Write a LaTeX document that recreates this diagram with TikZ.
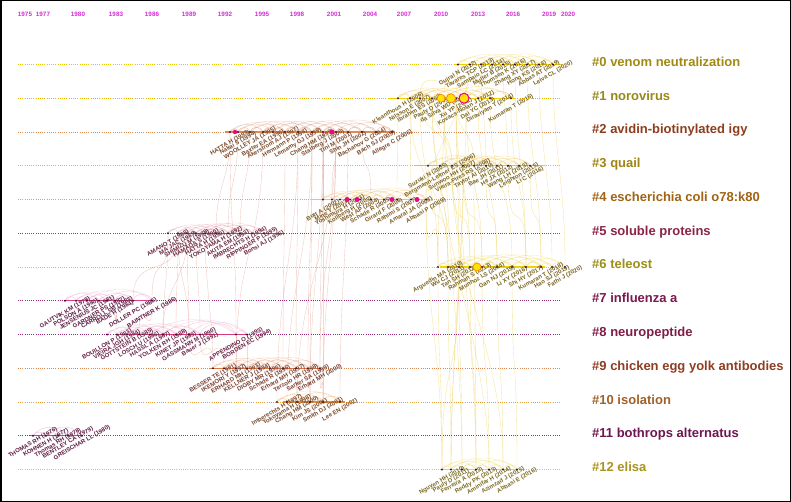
\documentclass[tikz,border=0pt]{standalone}
\usepackage{fontspec}
\setmainfont{Liberation Sans}
\pgfdeclarelayer{bg}
\pgfdeclarelayer{paper}
\pgfsetlayers{paper,bg,main}
\definecolor{dotc}{HTML}{3A1438}
\definecolor{yrc}{HTML}{D62BD6}
\definecolor{ylinkc}{HTML}{F0D25A}
\definecolor{rlinkc}{HTML}{E39A8C}
% baseline colours
\definecolor{L0}{HTML}{E6C800}\definecolor{L1}{HTML}{E8B400}\definecolor{L2}{HTML}{D68A50}
\definecolor{L3}{HTML}{E6C000}\definecolor{L4}{HTML}{E8B000}\definecolor{L5}{HTML}{A8307A}
\definecolor{L6}{HTML}{E6C800}\definecolor{L7}{HTML}{9A2A78}\definecolor{L8}{HTML}{9A2A78}
\definecolor{L9}{HTML}{D88850}\definecolor{L10}{HTML}{E0A040}\definecolor{L11}{HTML}{9A2A88}
\definecolor{L12}{HTML}{E6D000}
% segment colours
\definecolor{S0}{HTML}{F0D000}\definecolor{S1}{HTML}{F0D000}\definecolor{S2}{HTML}{E08A50}
\definecolor{S3}{HTML}{E8C800}\definecolor{S4}{HTML}{F4D400}\definecolor{S5}{HTML}{D23A6A}
\definecolor{S6}{HTML}{F0D200}\definecolor{S7}{HTML}{E03A8A}\definecolor{S8}{HTML}{D83A7A}
\definecolor{S9}{HTML}{E07A40}\definecolor{S10}{HTML}{E89030}\definecolor{S11}{HTML}{E030B0}
\definecolor{S12}{HTML}{F0D800}
% author label colours
\definecolor{A0}{HTML}{7A6420}\definecolor{A1}{HTML}{7A6420}\definecolor{A2}{HTML}{7A4A2A}
\definecolor{A3}{HTML}{7A6420}\definecolor{A4}{HTML}{7A5A20}\definecolor{A5}{HTML}{6A2840}
\definecolor{A6}{HTML}{7A6420}\definecolor{A7}{HTML}{5E1E44}\definecolor{A8}{HTML}{6A2448}
\definecolor{A9}{HTML}{7A4030}\definecolor{A10}{HTML}{7A4A28}\definecolor{A11}{HTML}{5E1E44}
\definecolor{A12}{HTML}{7A6A20}
% cluster label colours
\definecolor{C0}{HTML}{A08A12}\definecolor{C1}{HTML}{988818}\definecolor{C2}{HTML}{8E3E1E}
\definecolor{C3}{HTML}{A08416}\definecolor{C4}{HTML}{A06414}\definecolor{C5}{HTML}{8C2444}
\definecolor{C6}{HTML}{9C8E18}\definecolor{C7}{HTML}{7A1A4E}\definecolor{C8}{HTML}{7E1E44}
\definecolor{C9}{HTML}{8E3E22}\definecolor{C10}{HTML}{A0602A}\definecolor{C11}{HTML}{6E1650}
\definecolor{C12}{HTML}{A89420}
% arc colours
\definecolor{R0}{HTML}{F0D040}\definecolor{R1}{HTML}{F0B830}\definecolor{R2}{HTML}{E0906A}
\definecolor{R3}{HTML}{F0C040}\definecolor{R4}{HTML}{F0B850}\definecolor{R5}{HTML}{E88AA0}
\definecolor{R6}{HTML}{F0D040}\definecolor{R7}{HTML}{EA9AC6}\definecolor{R8}{HTML}{EA9AC0}
\definecolor{R9}{HTML}{E8956A}\definecolor{R10}{HTML}{F0A050}\definecolor{R11}{HTML}{E880CC}
\definecolor{R12}{HTML}{F0D840}

\newcommand\mkcluster[6]{%
  \draw[draw=L#1,line width=.7pt,dash pattern=on .9pt off 1.3pt] (18,#2) -- (560,#2);
  \draw[draw=S#1,line width=1.4pt] (#4,#2) -- (#5,#2);
  \foreach \x/\t [count=\i] in {#6}{%
    \node[dot] (c#1n\i) at (\x,#2) {};
    \node[lab,text=A#1] (c#1l\i) at (\x,#2+#3) {\t};
  }%
}
\newcommand\mkarcs[4]{%
  \begin{pgfonlayer}{bg}
  \foreach \i [evaluate=\i as \j using int(\i+1)] in {1,...,#2}
    \draw[draw=R#1,line width=.4pt,opacity=.55] (c#1n\i) to[bend left=70] (c#1n\j);
  \foreach \i [evaluate=\i as \j using int(\i+3)] in {1,...,#3}
    \draw[draw=R#1,line width=.4pt,opacity=.45] (c#1n\i) to[bend left=45] (c#1n\j);
  \foreach \i [evaluate=\i as \j using int(\i+5)] in {1,...,#4}
    \draw[draw=R#1,line width=.4pt,opacity=.35] (c#1n\i) to[bend left=35] (c#1n\j);
  \end{pgfonlayer}
}

\begin{document}
\begin{tikzpicture}[x=1pt,y=-1pt,
  dot/.style={circle,fill=dotc,inner sep=0pt,minimum size=2.4pt},
  lab/.style={font=\bfseries\fontsize{6}{6}\selectfont,rotate=30,inner sep=0pt},
  clab/.style={font=\bfseries\fontsize{13}{13}\selectfont,anchor=base west,inner sep=0pt},
  yr/.style={font=\bfseries\fontsize{6.3}{6.3}\selectfont,text=yrc,inner sep=0pt},
  ylink/.style={draw=ylinkc,line width=.35pt,opacity=.6},
  rlink/.style={draw=rlinkc,line width=.35pt,opacity=.55},
  big/.style={circle,inner sep=0pt,fill=#1},
]
\useasboundingbox (0,0) rectangle (791,502);
\begin{pgfonlayer}{paper}
\fill[white] (0,0) rectangle (791,502);
\end{pgfonlayer}

% year axis
\foreach \x/\yy in {25/1975,43/1977,78/1980,116/1983,152/1986,189/1989,225/1992,262/1995,297/1998,334/2001,370/2004,404/2007,441/2010,478/2013,513/2016,549/2019,568/2020}
  \node[yr] (yr\yy) at (\x,14) {\yy};

% clusters
\mkcluster{0}{64.5}{9}{455}{562}{458/Gujral N (2012),470/Tavares TCP (2013),481/Sampaio LC (2014),492/Muller B (2015),503/Thomsen K (2016),515/Zhang XY (2017),527/Hong KS (2018),539/Abbas AT (2019),553/Leiva CL (2020)}
\mkcluster{1}{98.25}{10}{388}{516}{398/Kleanthous H (2006),410/Nilsson E (2007),420/Ibrahim ES (2008),432/Pauly D (2009),444/da Silva WD (2010),456/Xu YP (2011),466/Kovacs-Nolan J (2012),478/Dai YC (2013),490/Diraviyam T (2014),511/Kumaran T (2016)}
\mkcluster{2}{132}{11}{225}{395}{230/HATTA H (1993),238/Nakai S (1994),250/WOOLLEY JA (1995),263/Baxter EA (1996),273/Akerstrom AJ (1997),285/Hermann P (1998),298/Lemamy GJ (1999),312/Chang HM (1999),323/Stalberg J (2000),336/Tini M (2001),348/Shin JH (2002),362/Bachanov G (2004),376/Bach SJ (2005),392/Allegre C (2006)}
\mkcluster{3}{165.75}{10}{415}{545}{428/Suzuki N (2005),440/Bergmann-Leitner ES (2006),452/Sunwoo HH (2007),463/Vieira-Pires RS (2008),474/Taylor AI (2010),486/Bae JH (2011),497/He JX (2012),508/Wang LH (2013),519/Leighton (2015),530/Li C (2016)}
\mkcluster{4}{199.5}{11}{310}{430}{323/Butt A (2002),332/Mine Y (2003),340/Yoshimura H (2003),350/Kollberg H (2003),360/West AP (2004),371/Schade R (2005),384/Girard F (2006),397/Rahimi S (2007),411/Amaral JA (2008),426/Abbasi P (2009)}
\mkcluster{5}{233.25}{10}{180}{285}{168/AMANO T (1988),178/MA JAC (1989),187/SHIMIZU M (1989),196/HAMADA S (1990),205/HATTA H (1990),216/YOKOYAMA H (1992),228/AKITA EM (1993),240/IMBRECHTS H (1994),252/RIPPINGER P (1995),264/Bonsi AJ (1996)}
\mkcluster{6}{267}{10}{440}{545}{438/Arguedin MA (2010),448/Wu CJ (2011),459/Tan SH (2012),470/Rahman S (2013),482/Munhoz LS (2014),497/Gan NJ (2015),512/Li XY (2016),526/Shi HY (2017),541/Kumaran T (2018),552/Hao SJ (2019),565/Fathi J (2020)}
\mkcluster{7}{300.75}{12}{65}{150}{65/GAUTVIK KM (1979),76/POLSON A (1980),87/JENSENIUS JC (1981),99/GARDNER PS (1982),107/CARROLL SB (1983),115/BADE H (1984),133/DOLLER PC (1985),152/BAINTNER K (1986)}
\mkcluster{8}{334.5}{10}{115}{245}{107/BOUILLON P (1983),117/VIEIRA JGH (1984),127/GOTTSTEIN B (1985),139/LOSCH U (1986),150/HASSL A (1987),163/YOLKEN RH (1988),176/KINET JP (1989),189/GASSMANN M (1990),200/Bauer J (1991),236/APPENDINO O (1993),247/BORDEN EC (1994)}
\mkcluster{9}{368.25}{10}{210}{320}{213/BESSER TE (1991),224/IKEMORI Y (1992),236/ERHARD MH (1993),247/KELLNER J (1994),259/DIGBY MR (1995),270/Schade R (1996),283/Erhard MH (1997),296/Terzolo HR (1998),308/Sarker SA (1999),320/Erhard MH (2000)}
\mkcluster{10}{402}{8}{283}{345}{277/Imberechts H (1997),287/Yokoyama H (1998),297/Chang HM (2000),310/Kim JS (2001),323/Smith DJ (2001),340/Lee EN (2002)}
\mkcluster{11}{435.75}{7}{30}{80}{33/THOMAS RH (1976),46/KOHNEN H (1977),58/Thomas RH (1978),68/BENTLEY CA (1979),82/GREISCHAR LL (1980)}
\mkcluster{12}{469.5}{11}{440}{515}{442/Nguyen HH (2010),451/Pauly D (2011),462/Ferreira A (2012),476/Reddy PK (2013),489/Aminifar H (2014),503/Azimzad J (2015),517/Abbasi E (2016)}

% cluster labels
\foreach \k/\yy/\t in {0/64.5/venom neutralization,1/98.25/norovirus,2/132/avidin-biotinylated igy,3/165.75/quail,4/199.5/escherichia coli o78:k80,5/233.25/soluble proteins,6/267/teleost,7/300.75/influenza a,8/334.5/neuropeptide,9/368.25/chicken egg yolk antibodies,10/402/isolation,11/435.75/bothrops alternatus,12/469.5/elisa}
  \node[clab,text=C\k] (cl\k) at (592,\yy+2) {\#\k\ \t};

% highlighted nodes
\node[big=yellow!85!orange,draw=orange,line width=.6pt,minimum size=8pt] (h1a) at (441,98.25) {};
\node[big=yellow!85!orange,draw=orange,line width=.6pt,minimum size=9pt] (h1b) at (451,98.25) {};
\node[big=yellow!85!orange,draw=magenta,line width=1pt,minimum size=10pt] (h1c) at (464,98.25) {};
\node[big=yellow!85!orange,draw=orange,line width=.6pt,minimum size=8pt] (h6a) at (477,267) {};
\node[big=magenta!85!purple,minimum size=4.5pt] (h2a) at (235,132) {};
\node[big=magenta!85!purple,minimum size=5pt] (h2b) at (332,132) {};
\node[big=magenta!85!purple,minimum size=5pt] (h4a) at (347,199.5) {};
\node[big=magenta!85!purple,minimum size=5pt] (h4b) at (357,199.5) {};
\node[big=magenta!85!purple,minimum size=5pt] (h4c) at (392,199.5) {};
\node[big=magenta!85!purple,minimum size=5pt] (h4d) at (417,199.5) {};

% arcs within clusters
\mkarcs{0}{8}{6}{4}
\mkarcs{1}{9}{7}{5}
\mkarcs{2}{13}{11}{9}
\mkarcs{3}{9}{7}{5}
\mkarcs{4}{9}{7}{5}
\mkarcs{5}{9}{7}{5}
\mkarcs{6}{10}{8}{6}
\mkarcs{7}{7}{5}{3}
\mkarcs{8}{10}{8}{6}
\mkarcs{9}{9}{7}{5}
\mkarcs{10}{5}{3}{1}
\mkarcs{12}{6}{4}{2}
\begin{pgfonlayer}{bg}
\foreach \a/\b in {c11n1/c11n2,c11n2/c11n3,c11n3/c11n4,c11n4/c11n5,c11n1/c11n4,c11n2/c11n5}
  \draw[draw=R11,line width=.4pt,opacity=.5] (\a) to[bend left=50] (\b);

% links between clusters, yellow
\foreach \a/\b in {c0n1/c1n5,c0n2/c1n6,c0n3/c3n6,c0n4/c1n7,c0n5/c3n8,c0n2/c4n10,c1n3/c3n3,c1n4/c3n3,c1n6/c3n5,c1n2/c4n9,c1n1/c4n8,c3n2/c4n9,c3n1/c4n10,c0n3/c1n8,c0n1/c1n3}
  \draw[ylink] (\a) .. controls +(0,40) and +(0,-40) .. (\b);
\foreach \a/\b in {c0n6/c6n8,c0n7/c6n9,c0n8/c6n10,c0n9/c6n11,c1n3/c6n1,c1n4/c6n2,c1n5/c6n3,c1n6/c6n4,c1n7/c6n5,c1n8/c6n6,c1n9/c6n7,c1n10/c6n8,c3n1/c6n2,c3n3/c6n4,c3n4/c6n5,c3n6/c6n6,c3n8/c6n8,c3n10/c6n9,c1n5/c6n1,c1n6/c6n3,c4n10/c6n1,c1n2/c6n2}
  \draw[ylink] (\a) .. controls +(0,90) and +(0,-90) .. (\b);
\foreach \a/\b in {c6n1/c12n1,c6n2/c12n2,c6n3/c12n3,c6n4/c12n4,c6n5/c12n5,c6n6/c12n6,c6n7/c12n7,c6n3/c12n1,c1n5/c12n3,c1n7/c12n2,c3n5/c12n4,c4n10/c12n1,c1n4/c12n5,c3n3/c12n6,c1n6/c12n4,c3n4/c12n2}
  \draw[ylink] (\a) .. controls +(0,120) and +(0,-120) .. (\b);

% links between clusters, red
\foreach \a/\b in {c2n7/c9n8,c2n8/c9n9,c2n9/c9n10,c2n10/c10n3,c2n8/c10n4,c2n9/c10n5,c2n11/c10n6,c2n7/c10n1,c2n8/c10n2,c2n6/c9n7,c2n10/c9n10,c2n4/c9n3,c2n1/c8n10,c2n9/c10n4,c2n10/c10n5}
  \draw[rlink] (\a) .. controls +(0,120) and +(0,-120) .. (\b);
\foreach \a/\b in {c2n12/c4n6,c2n10/c4n2,c2n9/c4n1,c2n1/c5n6,c2n2/c5n7,c2n3/c5n8,c5n1/c7n8,c5n2/c8n7,c5n3/c8n8,c5n2/c7n7,c5n4/c8n9,c5n1/c8n6,c5n5/c9n1,c8n8/c9n1,c8n9/c9n2,c8n10/c9n3,c8n11/c9n4,c7n8/c8n4,c7n6/c8n2,c9n10/c10n5,c9n9/c10n4,c9n8/c10n3,c5n3/c8n6,c5n2/c8n8}
  \draw[rlink] (\a) .. controls +(0,50) and +(0,-50) .. (\b);
\end{pgfonlayer}

% frame
\draw[line width=1.5pt] (0.75,0.75) rectangle (790.25,501.25);
\end{tikzpicture}
\end{document}
